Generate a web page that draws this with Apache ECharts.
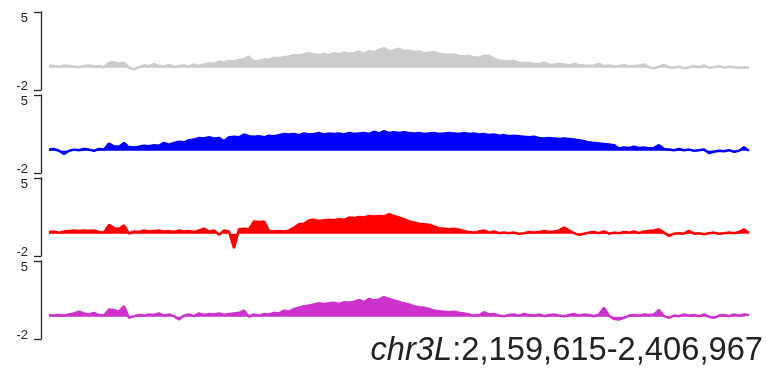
<!DOCTYPE html>
<html>
<head>
<meta charset="utf-8">
<script src="https://cdn.jsdelivr.net/npm/echarts@6/dist/echarts.min.js"></script>
<style>html,body{margin:0;padding:0;background:#fff}#c{width:766px;height:372px}</style>
</head>
<body>
<div id="c"></div>
<script>
// Region shown
const chrom = 'chr3L';
const regionStart = 2159615;
const regionEnd = 2406967;
// Track y-axis range / tick labels
const yMin = -2;
const yMax = 5;
const trackColors = ['#cccccc', '#0000ff', '#ff0000', '#cc33cc'];

// Signal per evenly spaced bin across the region (141 bins)
const track1 = [0.2,0.15,0.1,0.2,0.15,0.1,0.05,0.15,0.2,0.1,0.15,0.05,
0.45,0.5,0.35,0.45,0.0,-0.15,0.05,0.2,0.15,0.35,0.15,0.1,0.25,0.05,0.15,0.2,0.1,0.3,
0.15,0.3,0.4,0.35,0.55,0.45,0.6,0.55,0.7,0.75,1.0,0.55,0.6,0.75,0.7,0.9,0.85,0.95,1.0,1.15,
1.1,1.2,1.3,1.2,1.15,1.25,1.1,1.3,1.2,1.35,1.25,1.3,1.45,1.25,1.5,1.4,1.6,1.75,1.5,1.55,
1.7,1.5,1.55,1.4,1.45,1.3,1.35,1.4,1.25,1.2,1.15,1.2,1.05,1.0,1.05,0.95,0.9,1.05,1.1,0.8,
0.65,0.6,0.55,0.6,0.45,0.4,0.45,0.35,0.3,0.45,0.3,0.25,0.35,0.3,0.2,0.35,0.25,0.2,0.15,0.2,
0.35,0.15,0.2,0.1,0.15,0.25,0.1,0.15,0.2,0.3,0.05,-0.05,0.1,0.25,0.05,0.0,0.1,-0.05,0.05,0.15,
0.05,0.2,0.0,0.05,0.15,0.0,0.1,0.05,0.0,0.05,0.0];

const track2 = [0.1,0.15,0.0,-0.3,0.0,0.1,0.05,0.15,0.1,0.0,0.15,0.1,
0.65,0.4,0.35,0.7,0.3,0.3,0.35,0.45,0.4,0.5,0.45,0.7,0.55,0.7,0.8,0.75,0.95,1.0,
1.15,1.1,1.2,1.1,1.15,0.85,1.2,1.25,1.2,1.45,1.3,1.25,1.3,1.2,1.35,1.3,1.4,1.5,1.45,1.5,
1.4,1.55,1.45,1.5,1.6,1.45,1.55,1.5,1.55,1.45,1.6,1.5,1.55,1.6,1.5,1.7,1.55,1.75,1.6,1.65,
1.6,1.65,1.6,1.55,1.6,1.5,1.55,1.6,1.5,1.55,1.6,1.55,1.5,1.6,1.5,1.55,1.45,1.5,1.4,1.45,
1.35,1.4,1.3,1.35,1.3,1.25,1.2,1.25,1.15,1.1,1.15,1.1,1.05,1.1,1.05,1.0,0.95,0.85,0.75,0.7,
0.65,0.6,0.55,0.5,0.2,0.3,0.25,0.35,0.25,0.3,0.2,0.25,0.5,0.15,0.1,0.05,0.15,0.05,0.1,0.0,
0.05,0.1,-0.2,-0.1,0.0,-0.05,0.05,-0.1,0.0,0.3,0.0];

const track3 = [0.15,0.2,0.1,0.2,0.25,0.3,0.25,0.3,0.25,0.3,0.15,0.1,
0.8,0.5,0.45,0.75,0.0,0.2,0.15,0.3,0.2,0.25,0.3,0.2,0.25,0.15,0.3,0.2,0.25,0.15,
0.3,0.45,0.2,0.3,-0.1,0.3,0.2,-1.3,0.4,0.45,0.4,1.1,1.05,1.1,0.25,0.2,0.25,0.2,0.3,0.55,
0.85,0.9,1.2,1.25,1.15,1.2,1.25,1.2,1.3,1.25,1.45,1.4,1.5,1.45,1.6,1.55,1.6,1.55,1.75,1.6,
1.45,1.3,1.1,1.0,0.9,0.85,0.8,0.65,0.5,0.45,0.4,0.45,0.35,0.25,0.15,0.1,0.2,0.3,0.1,0.2,
0.05,0.1,0.05,0.1,0.0,0.05,0.15,0.1,0.15,0.25,0.15,0.2,0.3,0.55,0.3,0.05,-0.1,0.0,0.1,0.15,
0.05,0.2,0.0,0.1,0.05,0.15,0.1,0.2,0.05,0.2,0.25,0.3,0.4,0.1,-0.2,0.0,0.05,0.0,0.25,0.0,
0.05,-0.05,0.05,0.1,0.0,0.05,0.1,0.05,0.15,0.4,0.05];

const track4 = [0.15,0.1,0.15,0.1,0.2,0.3,0.45,0.3,0.2,0.35,0.15,0.1,
0.65,0.6,0.45,0.95,-0.1,0.05,0.15,0.1,0.2,0.15,0.3,0.1,0.2,0.05,-0.25,0.1,0.2,0.05,
0.3,0.15,0.25,0.2,0.3,0.15,0.25,0.3,0.35,0.55,0.0,0.2,0.1,0.25,0.2,0.35,0.3,0.55,0.45,0.7,
0.8,0.95,1.0,1.1,1.2,1.15,1.2,1.25,1.15,1.3,1.25,1.35,1.5,1.3,1.6,1.45,1.55,1.75,1.6,1.45,
1.35,1.2,1.1,0.95,0.85,0.8,0.7,0.55,0.5,0.45,0.4,0.45,0.35,0.3,0.2,0.1,0.15,0.4,0.2,0.25,
0.1,0.05,0.15,0.2,0.1,0.25,0.15,0.1,0.2,0.05,0.15,0.2,0.1,0.05,0.15,0.25,0.1,0.2,0.15,0.05,
0.2,0.8,0.1,-0.2,-0.25,-0.1,0.1,0.15,0.1,0.2,0.15,0.2,0.6,0.05,-0.1,0.1,0.05,0.2,0.1,0.15,
0.05,0.2,0.0,-0.1,0.1,0.15,0.05,0.2,0.1,0.2,0.15];

const tracks = [track1, track2, track3, track4];

const chart = echarts.init(document.getElementById('c'), null, {renderer: 'canvas'});
const gridTops = [12, 95, 178, 261];
const gridH = 78;
const nBins = track1.length;
const step = (regionEnd - regionStart) / (nBins - 1);
const FONT = 'Liberation Sans, Arial, sans-serif';

const grids = [], xAxes = [], yAxes = [], series = [];
tracks.forEach((vals, k) => {
  grids.push({left: 49, right: 17, top: gridTops[k], height: gridH});
  xAxes.push({type: 'value', gridIndex: k, min: regionStart, max: regionEnd, show: false});
  yAxes.push({
    type: 'value', gridIndex: k, min: yMin, max: yMax, interval: yMax - yMin,
    offset: 8,
    axisLine: {show: true, lineStyle: {color: '#222', width: 1.3}},
    axisTick: {show: true, length: 7, lineStyle: {color: '#222', width: 1.3}},
    splitLine: {show: false},
    axisLabel: {
      margin: 13, fontSize: 13, lineHeight: 8, color: '#222', fontFamily: FONT,
      verticalAlignMaxLabel: 'top',
      verticalAlignMinLabel: 'bottom',
      formatter: v => (v === yMax ? '{t|' + v + '}' : String(v)),
      rich: {t: {fontSize: 13, lineHeight: 8, color: '#222', fontFamily: FONT, padding: [4, 0, 0, 0]}}
    }
  });
  series.push({
    type: 'line', xAxisIndex: k, yAxisIndex: k,
    data: vals.map((v, i) => [regionStart + i * step, v]),
    showSymbol: false, smooth: false, animation: false,
    lineStyle: {color: trackColors[k], width: 2.5},
    itemStyle: {color: trackColors[k]},
    areaStyle: {color: trackColors[k], opacity: 1}
  });
});

chart.setOption({
  animation: false,
  grid: grids, xAxis: xAxes, yAxis: yAxes, series: series,
  graphic: [{
    type: 'text', right: 3, top: 334,
    style: {
      text: '{i|' + chrom + '}{n|:' + regionStart.toLocaleString('en-US') + '-' + regionEnd.toLocaleString('en-US') + '}',
      rich: {
        i: {fontSize: 32.7, fontStyle: 'italic', fill: '#222', fontFamily: FONT},
        n: {fontSize: 32.7, fill: '#222', fontFamily: FONT}
      }
    }
  }]
});
</script>
</body>
</html>
